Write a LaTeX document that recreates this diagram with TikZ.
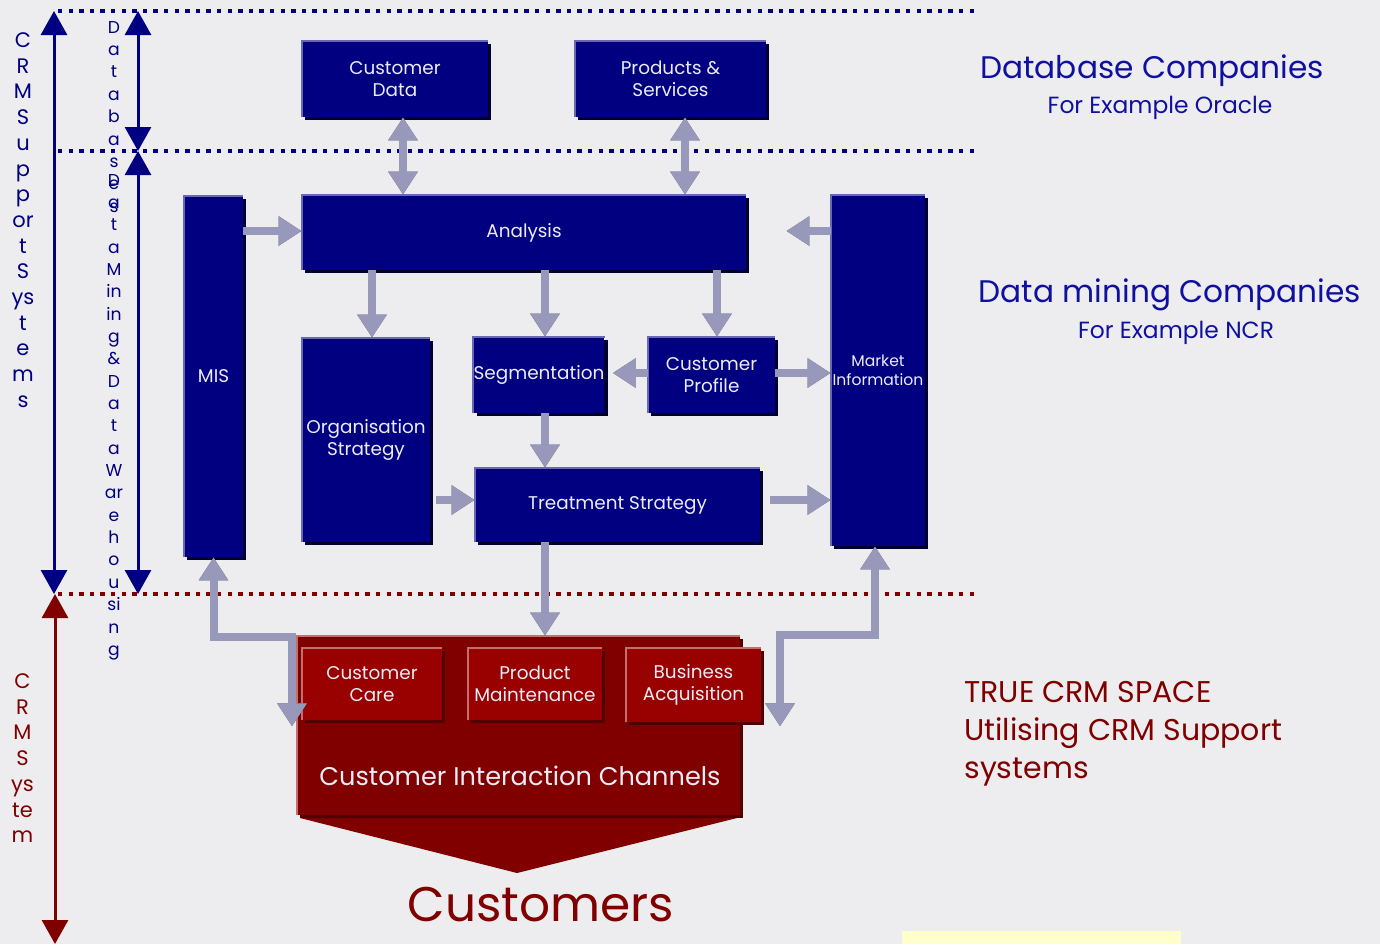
\documentclass[tikz,border=0pt]{standalone}
\usepackage{fontspec}
\setmainfont{Poppins}
\usetikzlibrary{arrows.meta,calc,shadows}

\definecolor{bg}{RGB}{237,237,239}
\definecolor{navy}{RGB}{0,0,128}
\definecolor{navyedge}{RGB}{104,104,180}
\definecolor{navyshade}{RGB}{0,0,48}
\definecolor{crimson}{RGB}{128,0,0}
\definecolor{redbox}{RGB}{153,0,0}
\definecolor{rededge}{RGB}{196,110,110}
\definecolor{redshade}{RGB}{80,0,0}
\definecolor{arrowfill}{RGB}{152,152,186}
\definecolor{arrowshade}{RGB}{86,86,112}
\definecolor{titleblue}{RGB}{16,16,160}
\definecolor{boxtext}{RGB}{236,236,246}
\definecolor{paleyellow}{RGB}{255,255,204}

\tikzset{
  boxfont/.style={font=\fontsize{9.2}{11}\selectfont},
  nbox/.style={fill=navy, inner sep=0pt, align=center, text=boxtext, boxfont,
    general shadow={fill=navyshade, shadow xshift=1.6pt, shadow yshift=-1.6pt}},
  rbox/.style={fill=redbox, inner sep=0pt, align=center, text=boxtext, boxfont,
    general shadow={fill=redshade, shadow xshift=1.6pt, shadow yshift=-1.6pt}},
  nedge/.style={draw=navyedge, line width=1.1pt},
  redge/.style={draw=rededge, line width=1.1pt},
  barrow/.style={draw=arrowfill, line width=4pt, line join=miter,
    >={Triangle[length=11.5pt,width=14pt]}},
  barrowshade/.style={draw=arrowshade, line width=4pt, line join=miter,
    >={Triangle[length=11.5pt,width=14pt]}, shift={(1.3pt,-1.3pt)}},
  dotline/.style={line width=2.2pt, dash pattern=on 2.2pt off 3.1pt},
  guide/.style={draw=navy, line width=1.5pt, >={Triangle[length=12pt,width=13pt]}},
  vletter/.style={anchor=base, inner sep=0pt},
  sidetext/.style={anchor=base, inner sep=0pt},
}

% block arrow with a drop shadow
\newcommand\blkarrow[2][]{%
  \draw[barrowshade,#1] #2;
  \draw[barrow,#1] #2;
}

\begin{document}
\begin{tikzpicture}[x=0.5pt,y=-0.5pt]
\useasboundingbox (0,0) rectangle (1380,944);
\fill[bg] (0,0) rectangle (1380,944);
\fill[paleyellow] (902,931) rectangle (1181,944);

% layer boundaries
\coordinate (d1a) at (58,11);  \coordinate (d1b) at (975,11);
\coordinate (d2a) at (58,151); \coordinate (d2b) at (975,151);
\coordinate (d3a) at (58,594); \coordinate (d3b) at (975,594);
\draw[dotline, navy] (d1a) -- (d1b);
\draw[dotline, navy] (d2a) -- (d2b);
\draw[dotline, crimson] (d3a) -- (d3b);

% span arrows on the left
\coordinate (gA1) at (54,11);  \coordinate (gA2) at (54,594);
\coordinate (gB1) at (138,11); \coordinate (gB2) at (138,151); \coordinate (gB3) at (138,594);
\coordinate (gR1) at (55,594); \coordinate (gR2) at (55,944);
\draw[guide,<->] (gA1) -- (gA2);
\draw[guide,<->] (gB1) -- (gB2);
\draw[guide,<->] (gB2) -- (gB3);
\draw[guide,draw=crimson,<->] (gR1) -- (gR2);

% stacked vertical labels
\begin{scope}[text=navy, font=\fontsize{10.5}{12}\selectfont]
\foreach \t [count=\i] in {C,R,M,S,u,p,p,or,t,S,ys,t,e,m,s}
  \node[vletter] (sup\i) at (23, {47.5+25.7*(\i-1)}) {\t};
\end{scope}
\begin{scope}[text=navy, font=\fontsize{8.6}{10}\selectfont]
\foreach \t [count=\i] in {D,a,t,a,b,a,s,e,s}
  \node[vletter] (dbl\i) at (114, {33+22.4*(\i-1)}) {\t};
\foreach \t [count=\i] in {D,a,t,a,M,in,in,g,\&,D,a,t,a,W,ar,e,h,o,u,si,n,g}
  \node[vletter] (dml\i) at (114, {186+22.35*(\i-1)}) {\t};
\end{scope}
\begin{scope}[text=crimson, font=\fontsize{10.5}{12}\selectfont]
\foreach \t [count=\i] in {C,R,M,S,ys,te,m}
  \node[vletter] (crs\i) at (22.5, {688.5+25.7*(\i-1)}) {\t};
\end{scope}

% support-system boxes
\node[nbox, minimum width=93pt,  minimum height=38pt]   (cdata)    at (395,79)      {Customer\\Data};
\node[nbox, minimum width=95.5pt, minimum height=38pt]  (prod)     at (670.5,79)    {Products \&\\Services};
\node[nbox, minimum width=222pt, minimum height=37.5pt] (analysis) at (524,232.5)   {Analysis};
\node[nbox, minimum width=29.5pt, minimum height=180.5pt] (mis)    at (213.5,376.5) {MIS};
\node[nbox, minimum width=47pt, minimum height=175.5pt, font=\fontsize{7.8}{9.6}\selectfont] (market) at (878,370.5) {Market\\Information};
\node[nbox, minimum width=64pt, minimum height=102pt]   (org)      at (366,440)     {Organisation\\Strategy};
\node[nbox, minimum width=64pt, minimum height=38pt]    (seg)      at (539,375)     {Segmentation};
\node[nbox, minimum width=63.5pt, minimum height=38pt]  (prof)     at (711.5,375)   {Customer\\Profile};
\node[nbox, minimum width=142.5pt, minimum height=37pt] (treat)    at (617.5,505)   {Treatment Strategy};
\foreach \n in {cdata,prod,analysis,mis,market,org,seg,prof,treat}
  \draw[nedge] (\n.south west) -- (\n.north west) -- (\n.north east);

% customer interaction channels
\node[fill=crimson, inner sep=0pt, minimum width=221.5pt, minimum height=89.5pt,
  general shadow={fill=redshade, shadow xshift=1.4pt, shadow yshift=-1.4pt}] (channels) at (518.5,725.5) {};
\draw[redge] (channels.south west) -- (channels.north west) -- (channels.north east);
\fill[crimson] (300,818) -- (737,818) -- (517,873) -- cycle;
\node[rbox, minimum width=70pt, minimum height=36pt]   (ccare)  at (372,684)   {Customer\\Care};
\node[rbox, minimum width=67pt, minimum height=36pt]   (pmaint) at (535,684)   {Product\\Maintenance};
\node[rbox, minimum width=67.5pt, minimum height=37pt] (bacq)   at (693.5,685) {Business\\Acquisition};
\foreach \n in {ccare,pmaint,bacq}
  \draw[redge] (\n.south west) -- (\n.north west) -- (\n.north east);
\node[text=boxtext, inner sep=0pt, anchor=base, font=\fontsize{12.8}{16}\selectfont] (cictext) at (520,785) {Customer Interaction Channels};
\node[text=crimson, inner sep=0pt, anchor=base, font=\fontsize{24.3}{30}\selectfont] (customers) at (541,921) {Customers};

% arrow lanes
\coordinate (xA) at (403,0); \coordinate (xB) at (685,0);
\coordinate (xC) at (372,0); \coordinate (xD) at (545,0);
\coordinate (xE) at (717,0); \coordinate (xF) at (292,0);
\coordinate (xG) at (875,0); \coordinate (xH) at (780,0);
\coordinate (yA) at (0,231); \coordinate (yB) at (0,373);
\coordinate (yC) at (0,500); \coordinate (yD) at (0,637);
\coordinate (yE) at (0,635);

% flows between boxes
\blkarrow[<->]{(xA |- cdata.south) -- (xA |- analysis.north)}
\blkarrow[<->]{(xB |- prod.south) -- (xB |- analysis.north)}
\blkarrow[->]{(yA -| mis.east) -- (yA -| analysis.west)}
\blkarrow[->]{(yA -| market.west) -- ($(yA -| analysis.east)+(20pt,0)$)}
\blkarrow[->]{(xC |- analysis.south) -- (xC |- org.north)}
\blkarrow[->]{(xD |- analysis.south) -- (xD |- seg.north)}
\blkarrow[->]{(xE |- analysis.south) -- (xE |- prof.north)}
\blkarrow[->]{(yB -| prof.west) -- ($(yB -| seg.east)+(4pt,0)$)}
\blkarrow[->]{(yB -| prof.east) -- (yB -| market.west)}
\blkarrow[->]{(xD |- seg.south) -- (xD |- treat.north)}
\blkarrow[->]{($(yC -| org.east)+(3pt,0)$) -- (yC -| treat.west)}
\blkarrow[->]{($(yC -| treat.east)+(5pt,0)$) -- (yC -| market.west)}
\blkarrow[->]{(xD |- treat.south) -- (xD |- channels.north)}
\blkarrow[<->]{(mis.south) -- (mis.south |- yD) -- (xF |- yD) -- ($(xF |- ccare.south)+(0,-3pt)$)}
\blkarrow[<->]{(xG |- market.south) -- (xG |- yE) -- (xH |- yE) -- ($(xH |- bacq.south)+(0,-2pt)$)}

% side annotations
\begin{scope}[text=titleblue]
\node[sidetext, font=\fontsize{15.6}{20}\selectfont] (dbco) at (1152,78) {Database Companies};
\node[sidetext, font=\fontsize{11.7}{14}\selectfont] (dbex) at (1160,113) {For Example Oracle};
\node[sidetext, font=\fontsize{15.6}{20}\selectfont] (dmco) at (1170,302) {Data mining Companies};
\node[sidetext, font=\fontsize{11.7}{14}\selectfont] (dmex) at (1176,338) {For Example NCR};
\end{scope}
\begin{scope}[text=crimson, font=\fontsize{15}{19}\selectfont]
\node[sidetext, anchor=base west] (crm1) at (964,702) {TRUE CRM SPACE};
\node[sidetext, anchor=base west] (crm2) at (964,740) {Utilising CRM Support};
\node[sidetext, anchor=base west] (crm3) at (964,778) {systems};
\end{scope}
\end{tikzpicture}
\end{document}
